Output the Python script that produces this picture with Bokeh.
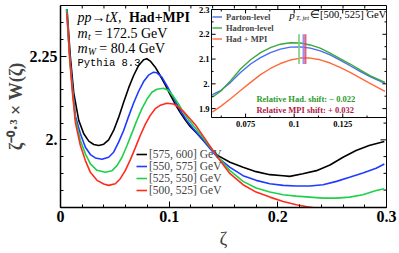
from bokeh.plotting import figure
from bokeh.models import Range1d, FixedTicker, Legend, LegendItem, Label
from bokeh.embed import file_html
from bokeh.resources import INLINE
from bokeh.core.properties import value

# ---------------- main panel data ----------------
bins = ["[575, 600]", "[550, 575]", "[525, 550]", "[500, 525]"]

z_575 = [0.006, 0.009, 0.0122, 0.0168, 0.0214, 0.026, 0.0306, 0.0352, 0.0398, 0.0443,
         0.0489, 0.0535, 0.0581, 0.0627, 0.0673, 0.0719, 0.0765, 0.0795, 0.0826, 0.0872,
         0.0917, 0.0963, 0.1009, 0.1055, 0.1101, 0.1147, 0.1193, 0.1254,
         0.1437, 0.156, 0.168, 0.180, 0.1927, 0.2049, 0.211, 0.223, 0.2355, 0.248,
         0.26, 0.272, 0.284, 0.298]
w_575 = [2.39, 2.25, 2.14, 2.058, 2.018, 1.996, 1.986, 1.983, 1.987, 2.0,
         2.028, 2.067, 2.112, 2.155, 2.192, 2.222, 2.239, 2.242, 2.235, 2.217,
         2.192, 2.165, 2.135, 2.107, 2.082, 2.06, 2.04, 2.02,
         1.955, 1.933, 1.918, 1.905, 1.896, 1.893, 1.891, 1.899, 1.908, 1.925,
         1.948, 1.968, 1.983, 1.995]

z_550 = [0.0055, 0.008, 0.0107, 0.0138, 0.0183, 0.0229, 0.0275, 0.0321, 0.0382, 0.0443,
         0.0489, 0.0535, 0.0581, 0.0627, 0.0673, 0.0719, 0.0765, 0.081, 0.0856, 0.0887,
         0.0933, 0.0979, 0.1024, 0.107, 0.1116, 0.1162, 0.1223,
         0.1437, 0.156, 0.168, 0.180, 0.1927, 0.2049, 0.217, 0.2294, 0.2416, 0.254,
         0.266, 0.2783, 0.2905, 0.298]
w_550 = [2.39, 2.27, 2.17, 2.07, 2.018, 1.978, 1.956, 1.946, 1.942, 1.948,
         1.963, 1.993, 2.028, 2.07, 2.11, 2.145, 2.174, 2.193, 2.202, 2.2,
         2.187, 2.162, 2.135, 2.107, 2.081, 2.058, 2.033,
         1.95, 1.918, 1.893, 1.879, 1.869, 1.864, 1.862, 1.862, 1.866, 1.876,
         1.888, 1.901, 1.915, 1.928]

z_525 = [0.0058, 0.0085, 0.011, 0.0138, 0.0183, 0.0229, 0.0275, 0.0336, 0.0413, 0.0474,
         0.052, 0.0566, 0.0612, 0.0657, 0.0703, 0.0749, 0.0795, 0.0841, 0.0887, 0.0948,
         0.0994, 0.104, 0.1086, 0.1131, 0.1177, 0.1239,
         0.1437, 0.156, 0.168, 0.180, 0.1927, 0.2049, 0.217, 0.2294, 0.2416, 0.254,
         0.266, 0.2783, 0.2905, 0.298]
w_525 = [2.39, 2.24, 2.15, 2.06, 1.998, 1.958, 1.928, 1.909, 1.903, 1.908,
         1.923, 1.948, 1.983, 2.02, 2.058, 2.093, 2.121, 2.142, 2.151, 2.154,
         2.147, 2.129, 2.107, 2.082, 2.061, 2.036,
         1.953, 1.908, 1.876, 1.856, 1.844, 1.836, 1.832, 1.829, 1.826, 1.826,
         1.829, 1.836, 1.849, 1.854]

z_500 = [0.006, 0.0085, 0.011, 0.0138, 0.0183, 0.0229, 0.0275, 0.0336, 0.0398, 0.0443,
         0.0505, 0.055, 0.0596, 0.0642, 0.0688, 0.0734, 0.078, 0.0826, 0.0872, 0.0917,
         0.0979, 0.104, 0.1086, 0.1131, 0.1177, 0.1239,
         0.1437, 0.156, 0.168, 0.180, 0.1927, 0.2049, 0.217, 0.2294, 0.2355]
w_500 = [2.38, 2.24, 2.14, 2.05, 1.983, 1.938, 1.903, 1.879, 1.868, 1.864,
         1.869, 1.884, 1.908, 1.94, 1.976, 2.013, 2.046, 2.073, 2.093, 2.103,
         2.109, 2.107, 2.098, 2.085, 2.068, 2.046,
         1.952, 1.899, 1.866, 1.844, 1.829, 1.816, 1.806, 1.799, 1.796]

x_major = [0, 0.1, 0.2, 0.3]
x_major_labels = ["0", "0.1", "0.2", "0.3"]
x_minor = [0.02, 0.04, 0.06, 0.08, 0.12, 0.14, 0.16, 0.18, 0.22, 0.24, 0.26, 0.28]
y_major = [2.0, 2.25]
y_major_labels = ["2.", "2.25"]
y_minor = [1.85, 1.9, 1.95, 2.05, 2.1, 2.15, 2.2, 2.3, 2.35]

# ---------------- inset data ----------------
inset_z = [0.0579, 0.0622, 0.0673, 0.0724, 0.0776, 0.0827, 0.0878, 0.0929, 0.0980,
           0.1032, 0.1083, 0.1134, 0.1185, 0.1236, 0.1288, 0.1339, 0.1390, 0.1467]
parton = [1.956, 1.973, 2.006, 2.046, 2.080, 2.106, 2.126, 2.140, 2.148,
          2.149, 2.144, 2.133, 2.117, 2.096, 2.073, 2.050, 2.029, 2.002]
hadron = [1.946, 1.970, 2.013, 2.060, 2.097, 2.126, 2.146, 2.160, 2.166,
          2.165, 2.157, 2.144, 2.124, 2.102, 2.080, 2.056, 2.033, 2.006]
hadmpi = [1.886, 1.909, 1.940, 1.973, 2.006, 2.037, 2.062, 2.082, 2.096,
          2.104, 2.104, 2.097, 2.084, 2.066, 2.046, 2.024, 2.002, 1.970]
inset_labels = ["Parton-level", "Hadron-level", "Had + MPI"]
peak_z = [0.1025, 0.1048, 0.1058]          # hadron, parton, had+mpi peak markers
inset_x_major = [0.075, 0.1, 0.125]
inset_x_labels = ["0.075", "0.1", "0.125"]
inset_x_minor = [0.0625, 0.0875, 0.1125, 0.1375]
inset_y_major = [1.9, 2.0, 2.1, 2.2, 2.3]
inset_y_labels = ["1.9", "2.", "2.1", "2.2", "2.3"]
inset_y_minor = [1.95, 2.05, 2.15, 2.25]
had_shift = "\u2212 0.022"
mpi_shift = "+ 0.032"

SERIF = "Liberation Serif"
X0, X1 = 0.0, 0.3
Y0, Y1 = 1.798, 2.401

p = figure(width=399, height=253, output_backend="svg", toolbar_location=None,
           x_range=Range1d(X0, X1), y_range=Range1d(Y0, Y1),
           min_border_left=60, min_border_right=13, min_border_top=5,
           min_border_bottom=46)
p.background_fill_color = "white"
p.border_fill_color = "white"
p.outline_line_color = "black"
p.outline_line_width = 1
p.xgrid.visible = False
p.ygrid.visible = False

def style_axis(ax, ticker):
    ax.ticker = ticker
    ax.major_tick_in = 6
    ax.major_tick_out = 0
    ax.minor_tick_in = 3
    ax.minor_tick_out = 0
    ax.axis_line_color = "black"
    ax.axis_line_width = 1.5
    ax.major_tick_line_color = "black"
    ax.minor_tick_line_color = "black"
    ax.major_label_text_font = SERIF
    ax.major_label_text_font_style = "bold"
    ax.major_label_text_font_size = "16px"
    ax.major_label_text_color = "black"
    ax.major_label_standoff = 3

style_axis(p.xaxis[0], FixedTicker(ticks=x_major, minor_ticks=x_minor))
style_axis(p.yaxis[0], FixedTicker(ticks=y_major, minor_ticks=y_minor))
p.xaxis[0].major_label_overrides = dict(zip(x_major, x_major_labels))
p.yaxis[0].major_label_overrides = dict(zip(y_major, y_major_labels))

p.xaxis[0].axis_label = "\u03b6"
p.xaxis[0].axis_label_text_font = SERIF
p.xaxis[0].axis_label_text_font_style = "normal"
p.xaxis[0].axis_label_text_font_size = "19px"
p.xaxis[0].axis_label_standoff = 3

p.yaxis[0].axis_label = "\u03b6\u207b\u2070\u00b7\u00b3 \u00d7 W(\u03b6)"
p.yaxis[0].axis_label_text_font = SERIF
p.yaxis[0].axis_label_text_font_style = "bold"
p.yaxis[0].axis_label_text_font_size = "18px"
p.yaxis[0].axis_label_standoff = 1

# mirrored ticks on the top and right frame edges
mx, my = 6 / 1087, 6 / 335
nx, ny = len(x_major), len(y_major)
p.segment(x0=x_major, x1=x_major, y0=[Y1] * nx, y1=[Y1 - my] * nx, line_color="black")
p.segment(x0=x_minor, x1=x_minor, y0=[Y1] * len(x_minor), y1=[Y1 - my / 2] * len(x_minor),
          line_color="black")
p.segment(x0=[X1] * ny, x1=[X1 - mx] * ny, y0=y_major, y1=y_major, line_color="black")
p.segment(x0=[X1] * len(y_minor), x1=[X1 - mx / 2] * len(y_minor), y0=y_minor, y1=y_minor,
          line_color="black")

main_colors = ["#000000", "#1f3bff", "#1fd04a", "#ff2b1c"]
series = [(z_575, w_575), (z_550, w_550), (z_525, w_525), (z_500, w_500)]
main_items = []
for (zz, ww), col, b in zip(series, main_colors, bins):
    r = p.line(zz, ww, line_color=col, line_width=1.6)
    main_items.append(LegendItem(label=b + " GeV", renderers=[r]))

leg = Legend(items=main_items, location=(76, 11), orientation="vertical",
             label_text_font=SERIF, label_text_font_size="11.5px",
             glyph_width=11, glyph_height=12, label_height=12, label_standoff=2,
             spacing=0, padding=0, margin=0,
             background_fill_alpha=0, border_line_alpha=0)
p.add_layout(leg)

# ---------------- text annotations ----------------
def lab(x, y, text, size="14px", style="normal", font=SERIF, color="black"):
    p.add_layout(Label(x=x, y=y, text=text, text_font=font, text_font_size=size,
                       text_font_style=style, text_color=color,
                       text_baseline="middle", text_align="left"))

lab(0.0156, 2.365, "pp\u2192tX,", style="italic")
lab(0.0630, 2.365, "Had+MPI", style="bold")
lab(0.0156, 2.318, "m", style="italic")
lab(0.0254, 2.306, "t", size="9.5px", style="italic")
lab(0.0313, 2.318, " = 172.5 GeV")
lab(0.0156, 2.273, "m", style="italic")
lab(0.0254, 2.261, "W", size="9.5px", style="italic")
lab(0.0357, 2.273, " = 80.4 GeV")
lab(0.0156, 2.228, "Pythia 8.3", size="10.5px", font="Liberation Mono")

# ---------------- inset ----------------
ix0, ix1 = 0.0575, 0.1475
iy0, iy1 = 1.864, 2.3
sub = p.subplot(x_source=Range1d(ix0, ix1), y_source=Range1d(iy0, iy1),
                x_target=Range1d(0.139, 0.3), y_target=Range1d(2.0666, 2.389))

sub.quad(left=[ix0], right=[ix1], bottom=[iy0], top=[iy1],
         fill_color="white", line_color="black", line_width=1)

inset_colors = ["#4a6cf0", "#3aa83a", "#ff6a3a"]
inset_items = []
for yy, col, name in zip([parton, hadron, hadmpi], inset_colors, inset_labels):
    r = sub.line(inset_z, yy, line_color=col, line_width=1.4)
    inset_items.append(LegendItem(label=name, renderers=[r]))

peak_colors = ["#7fcf7f", "#8a7fe6", "#d8466e"]
sub.segment(x0=peak_z, x1=peak_z, y0=[2.08] * 3, y1=[2.2] * 3,
            line_color=peak_colors, line_width=2, line_alpha=0.85)

tly, tlx = 0.016, 0.0021
n = len(inset_x_major)
sub.segment(x0=inset_x_major, x1=inset_x_major, y0=[iy0] * n, y1=[iy0 + tly] * n, line_color="black")
sub.segment(x0=inset_x_major, x1=inset_x_major, y0=[iy1] * n, y1=[iy1 - tly] * n, line_color="black")
m = len(inset_x_minor)
sub.segment(x0=inset_x_minor, x1=inset_x_minor, y0=[iy0] * m, y1=[iy0 + tly / 2] * m, line_color="black")
sub.segment(x0=inset_x_minor, x1=inset_x_minor, y0=[iy1] * m, y1=[iy1 - tly / 2] * m, line_color="black")
k = len(inset_y_major)
sub.segment(x0=[ix0] * k, x1=[ix0 + tlx] * k, y0=inset_y_major, y1=inset_y_major, line_color="black")
sub.segment(x0=[ix1] * k, x1=[ix1 - tlx] * k, y0=inset_y_major, y1=inset_y_major, line_color="black")
q = len(inset_y_minor)
sub.segment(x0=[ix0] * q, x1=[ix0 + tlx / 2] * q, y0=inset_y_minor, y1=inset_y_minor, line_color="black")
sub.segment(x0=[ix1] * q, x1=[ix1 - tlx / 2] * q, y0=inset_y_minor, y1=inset_y_minor, line_color="black")

sub.text(x=[ix0] * k, y=inset_y_major, text=inset_y_labels, x_offset=-2,
         text_font=value(SERIF), text_font_size="8.5px", text_font_style="bold",
         text_align="right", text_baseline="middle", text_color="black")
sub.text(x=inset_x_major, y=[iy0] * n, text=inset_x_labels, y_offset=3,
         text_font=value(SERIF), text_font_size="8.5px", text_font_style="bold",
         text_align="center", text_baseline="top", text_color="black")

sub.text(x=[0.0975], y=[2.279], text=["p"], text_font=value(SERIF),
         text_font_size="11px", text_font_style="italic", text_baseline="middle")
sub.text(x=[0.1010], y=[2.266], text=["T, jet"], text_font=value(SERIF),
         text_font_size="6.5px", text_font_style="italic", text_baseline="middle")
sub.text(x=[0.1082], y=[2.279], text=["\u2208[500, 525] GeV"], text_font=value(SERIF),
         text_font_size="10.5px", text_baseline="middle")

sub.text(x=[0.0806], y=[1.937], text=["Relative Had. shift: " + had_shift],
         text_font=value(SERIF), text_font_size="8.5px", text_font_style="bold",
         text_color="#2e9a2e", text_baseline="middle")
sub.text(x=[0.0806], y=[1.896], text=["Relative MPI shift:  " + mpi_shift],
         text_font=value(SERIF), text_font_size="8.5px", text_font_style="bold",
         text_color="#b01a4a", text_baseline="middle")

leg2 = Legend(items=inset_items, location=(152, 163), orientation="vertical",
              label_text_font=SERIF, label_text_font_size="8.5px",
              label_text_font_style="bold",
              glyph_width=10, glyph_height=11, label_height=11, label_standoff=4,
              spacing=0, padding=0, margin=0,
              background_fill_alpha=0, border_line_alpha=0)
p.add_layout(leg2)

open("out.html", "w").write(file_html(p, INLINE))
